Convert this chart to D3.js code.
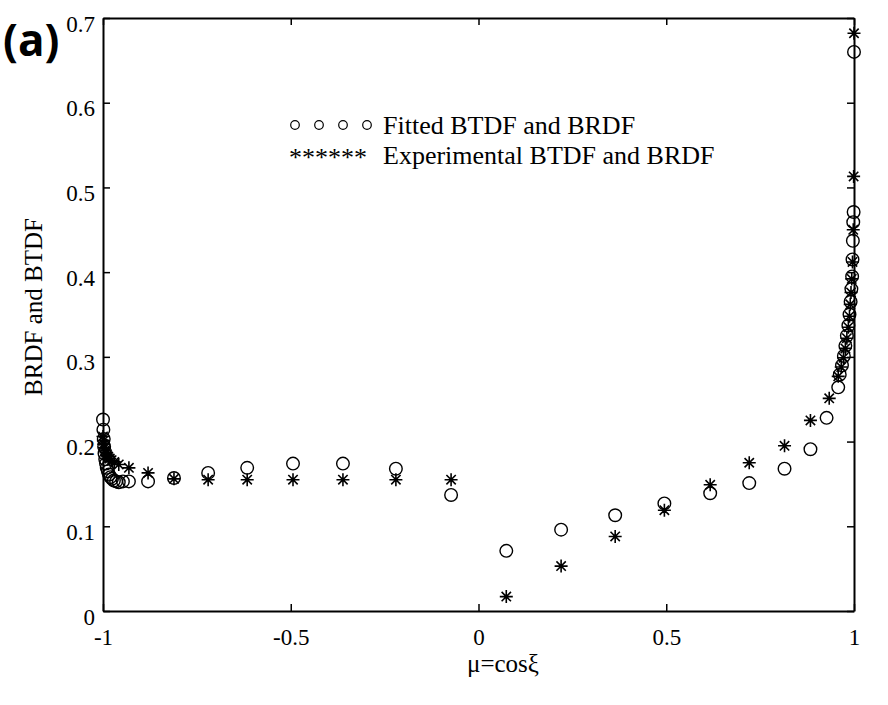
<!DOCTYPE html>
<html>
<head>
<meta charset="utf-8">
<script src="https://cdn.jsdelivr.net/npm/d3@7"></script>
<style>
  body { margin: 0; background: #fff; }
  text { font-family: "Liberation Serif", "Times New Roman", serif; fill: #000; }
</style>
</head>
<body>
<div id="chart"></div>
<script>
  // fitted BTDF / BRDF (circles)
  let fittedX = [-1.000, -0.999, -0.998, -0.997, -0.996, -0.994, -0.992, -0.990, -0.987, -0.984,
                 -0.980, -0.976, -0.971, -0.965, -0.958, -0.947, -0.931, -0.880, -0.811, -0.720,
                 -0.616, -0.494, -0.361, -0.220, -0.073,
                  0.074,  0.220,  0.364,  0.495,  0.617,  0.721,  0.815,  0.884,  0.927,  0.958,
                  0.962,  0.968,  0.973,  0.977,  0.981,  0.985,  0.988,  0.991,  0.993,  0.995,
                  0.996,  0.997,  0.998,  0.999,  1.000]
  let fittedY = [0.226, 0.214, 0.203, 0.194, 0.186, 0.179, 0.174, 0.169, 0.165, 0.161,
                 0.158, 0.156, 0.154, 0.153, 0.152, 0.153, 0.153, 0.153, 0.157, 0.163,
                 0.169, 0.174, 0.174, 0.168, 0.137,
                 0.071, 0.096, 0.113, 0.127, 0.139, 0.151, 0.168, 0.191, 0.228, 0.264,
                 0.279, 0.290, 0.301, 0.313, 0.325, 0.337, 0.350, 0.365, 0.380, 0.395,
                 0.415, 0.437, 0.459, 0.471, 0.660]

  // experimental BTDF / BRDF (asterisks)
  let expX = [-1.000, -0.999, -0.998, -0.996, -0.994, -0.992, -0.989, -0.986, -0.982, -0.977,
              -0.970, -0.958, -0.931, -0.880, -0.811, -0.720, -0.616, -0.494, -0.361, -0.220,
              -0.073,
               0.074,  0.220,  0.364,  0.495,  0.617,  0.721,  0.815,  0.884,  0.934,  0.958,
               0.966,  0.972,  0.977,  0.981,  0.985,  0.988,  0.990,  0.992,  0.994,  0.996,
               0.998,  0.999,  1.000]
  let expY = [0.206, 0.201, 0.197, 0.193, 0.190, 0.187, 0.184, 0.182, 0.180, 0.178,
              0.176, 0.173, 0.169, 0.163, 0.156, 0.155, 0.155, 0.155, 0.155, 0.155,
              0.155,
              0.017, 0.053, 0.088, 0.119, 0.149, 0.175, 0.195, 0.225, 0.251, 0.277,
              0.288, 0.299, 0.310, 0.322, 0.335, 0.348, 0.362, 0.376, 0.392, 0.412,
              0.450, 0.513, 0.682]

  let xTicks = [-1, -0.5, 0, 0.5, 1]
  let yTicks = [0, 0.1, 0.2, 0.3, 0.4, 0.5, 0.6, 0.7]
  let legendLabels = ['Fitted BTDF and BRDF', 'Experimental BTDF and BRDF']

  let width = 888, height = 705,
      serif = '"Liberation Serif", "Times New Roman", serif'

  let x = d3.scaleLinear().domain([-1, 1]).range([103, 854]),
      y = d3.scaleLinear().domain([0, 0.7]).range([611, 18])

  let svg = d3.select('#chart')
              .append('svg')
              .attr('width', width)
              .attr('height', height)

  let fmt = d => d === 0 ? '0' : String(d)

  // axes, ticks pointing inward
  let gx = svg.append('g')
      .attr('transform', 'translate(0,' + y(0) + ')')
      .call(d3.axisBottom(x).tickValues(xTicks).tickFormat(fmt).tickSizeInner(-7).tickSizeOuter(0))
  gx.selectAll('text').attr('y', 34).attr('dy', null)

  let gy = svg.append('g')
      .attr('transform', 'translate(' + x(-1) + ',0)')
      .call(d3.axisLeft(y).tickValues(yTicks).tickFormat(fmt).tickSizeInner(-7).tickSizeOuter(0))
  gy.selectAll('text').attr('x', -8).attr('y', 13).attr('dy', null)

  svg.append('g')
      .attr('transform', 'translate(0,' + y(0.7) + ')')
      .call(d3.axisTop(x).tickValues(xTicks).tickFormat('').tickSizeInner(-7).tickSizeOuter(0))
  svg.append('g')
      .attr('transform', 'translate(' + x(1) + ',0)')
      .call(d3.axisRight(y).tickValues(yTicks).tickFormat('').tickSizeInner(-7).tickSizeOuter(0))

  svg.selectAll('.domain').attr('stroke', '#000').attr('stroke-width', 2)
  svg.selectAll('.tick line').attr('stroke', '#000').attr('stroke-width', 1.5)
  svg.selectAll('.tick text')
    .attr('font-family', null)
    .style('font-family', serif)
    .style('font-size', '23px')
    .style('fill', '#000')

  // markers
  let fitted = fittedX.map((d, i) => ({ x: d, y: fittedY[i] })),
      exper  = expX.map((d, i) => ({ x: d, y: expY[i] }))

  let star = function(s) {
    let k = s * 0.72
    return 'M' + (-s) + ',0L' + s + ',0M0,' + (-s) + 'L0,' + s +
           'M' + (-k) + ',' + (-k) + 'L' + k + ',' + k +
           'M' + (-k) + ',' + k + 'L' + k + ',' + (-k) }

  svg.append('g').attr('id', 'fitted')
    .selectAll('circle').data(fitted)
    .enter().append('circle')
      .attr('cx', d => x(d.x))
      .attr('cy', d => y(d.y))
      .attr('r', 6.3)
      .attr('fill', 'none')
      .attr('stroke', '#000')
      .attr('stroke-width', 1.4)

  svg.append('g').attr('id', 'exper')
    .selectAll('path').data(exper)
    .enter().append('path')
      .attr('transform', d => 'translate(' + x(d.x) + ',' + y(d.y) + ')')
      .attr('d', star(6.5))
      .attr('fill', 'none')
      .attr('stroke', '#000')
      .attr('stroke-width', 1.6)

  // legend
  let legend = svg.append('g').attr('id', 'legend')
  legend.selectAll('circle').data([295, 319, 343, 367])
    .enter().append('circle')
      .attr('cx', d => d)
      .attr('cy', 125)
      .attr('r', 4.3)
      .attr('fill', 'none')
      .attr('stroke', '#000')
      .attr('stroke-width', 1.2)
  legend.append('text')
    .attr('x', 289).attr('y', 166)
    .style('font-family', serif)
    .style('font-size', '26px')
    .text('******')
  legend.selectAll('text.lbl').data(legendLabels)
    .enter().append('text')
      .attr('class', 'lbl')
      .attr('x', 383)
      .attr('y', (d, i) => 134 + i * 30)
      .style('font-family', serif)
      .style('font-size', '26px')
      .text(d => d)

  // axis titles
  svg.append('text')
    .attr('x', 503).attr('y', 672)
    .attr('text-anchor', 'middle')
    .style('font-family', serif)
    .style('font-size', '25px')
    .text('μ=cosξ')
  svg.append('text')
    .attr('transform', 'translate(42,307) rotate(-90)')
    .attr('text-anchor', 'middle')
    .style('font-family', serif)
    .style('font-size', '25px')
    .text('BRDF and BTDF')

  // panel label
  svg.append('text')
    .attr('x', 3).attr('y', 56)
    .style('font-family', '"Open Sans", "Liberation Sans", sans-serif')
    .style('font-weight', 'bold')
    .style('font-size', '44px')
    .text('(a)')
</script>
</body>
</html>
